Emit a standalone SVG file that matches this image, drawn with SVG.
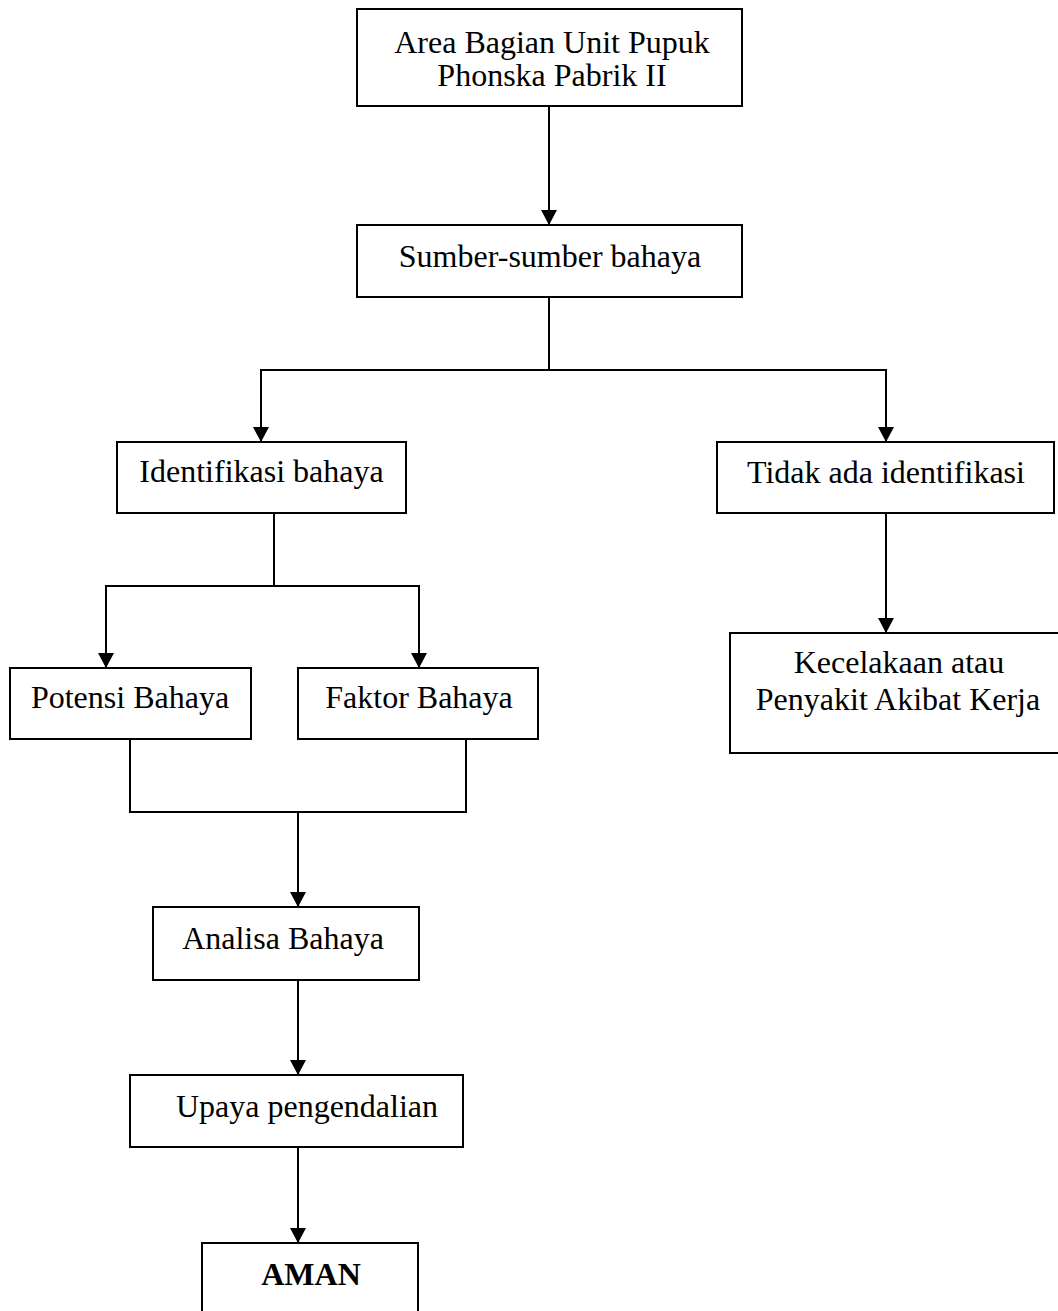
<svg xmlns="http://www.w3.org/2000/svg" width="1058" height="1311" viewBox="0 0 1058 1311">
<style>
.box{fill:#fff;stroke:#000;stroke-width:2}
.t{font-family:"Liberation Serif","Times New Roman",serif;font-size:32px;fill:#000;text-anchor:middle}
.b{font-weight:bold}
.c{fill:none;stroke:#000;stroke-width:2}
</style>
<defs>
<marker id="ah" viewBox="0 0 15 16" refX="15" refY="8" markerWidth="15" markerHeight="16" markerUnits="userSpaceOnUse" orient="auto">
<path d="M0,0 L15,8 L0,16 z" fill="#000"/>
</marker>
</defs>
<rect width="1058" height="1311" fill="#fff"/>
<g id="connectors">
<path class="c" d="M549,106 V225" marker-end="url(#ah)"/>
<path class="c" d="M549,297 V370 H261 V442" marker-end="url(#ah)"/>
<path class="c" d="M549,370 H886 V442" marker-end="url(#ah)"/>
<path class="c" d="M274,513 V586 H106 V668" marker-end="url(#ah)"/>
<path class="c" d="M274,586 H419 V668" marker-end="url(#ah)"/>
<path class="c" d="M886,513 V633" marker-end="url(#ah)"/>
<path class="c" d="M130,739 V812 H466 V739"/>
<path class="c" d="M298,812 V907" marker-end="url(#ah)"/>
<path class="c" d="M298,980 V1075" marker-end="url(#ah)"/>
<path class="c" d="M298,1147 V1243" marker-end="url(#ah)"/>
</g>
<g id="n-area">
<rect class="box" x="357" y="9" width="385" height="97"/>
<text class="t" x="552" y="53">Area Bagian Unit Pupuk</text>
<text class="t" x="552" y="86">Phonska Pabrik II</text>
</g>
<g id="n-sumber">
<rect class="box" x="357" y="225" width="385" height="72"/>
<text class="t" x="550" y="267">Sumber-sumber bahaya</text>
</g>
<g id="n-identifikasi">
<rect class="box" x="117" y="442" width="289" height="71"/>
<text class="t" x="261.5" y="482">Identifikasi bahaya</text>
</g>
<g id="n-tidak">
<rect class="box" x="717" y="442" width="337" height="71"/>
<text class="t" x="886" y="483">Tidak ada identifikasi</text>
</g>
<g id="n-kecelakaan">
<rect class="box" x="730" y="633" width="336" height="120"/>
<text class="t" x="899" y="673">Kecelakaan atau</text>
<text class="t" x="898" y="710">Penyakit Akibat Kerja</text>
</g>
<g id="n-potensi">
<rect class="box" x="10" y="668" width="241" height="71"/>
<text class="t" x="130" y="708">Potensi Bahaya</text>
</g>
<g id="n-faktor">
<rect class="box" x="298" y="668" width="240" height="71"/>
<text class="t" x="419" y="708">Faktor Bahaya</text>
</g>
<g id="n-analisa">
<rect class="box" x="153" y="907" width="266" height="73"/>
<text class="t" x="283" y="949">Analisa Bahaya</text>
</g>
<g id="n-upaya">
<rect class="box" x="130" y="1075" width="333" height="72"/>
<text class="t" x="307" y="1117">Upaya pengendalian</text>
</g>
<g id="n-aman">
<rect class="box" x="202" y="1243" width="216" height="90"/>
<text class="t b" x="311" y="1285">AMAN</text>
</g>
</svg>
